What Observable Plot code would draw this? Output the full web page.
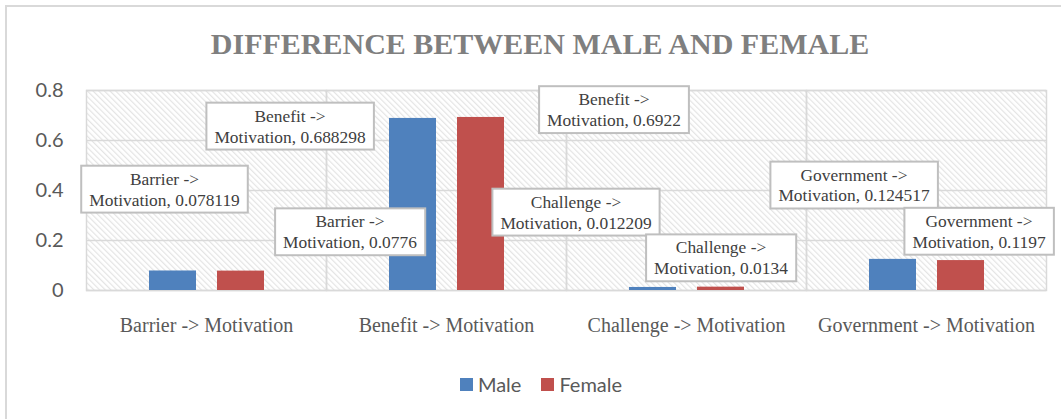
<!DOCTYPE html>
<html>
<head>
<meta charset="utf-8">
<script src="https://cdn.jsdelivr.net/npm/d3@7"></script>
<script src="https://cdn.jsdelivr.net/npm/@observablehq/plot@0.6"></script>
<style>
  html, body { margin: 0; padding: 0; background: #fff; }
  #wrap { position: relative; width: 1061px; height: 419px; overflow: hidden; background: #fff; }
  #border { position: absolute; left: 5px; top: 5px; width: 1200px; height: 600px; border: 2px solid #d9d9d9; box-sizing: border-box; }
  #title { position: absolute; left: 0; top: 28px; width: 1080px; height: 32px; line-height: 32px; text-align: center;
           font-family: "Liberation Serif", "Times New Roman", serif; font-weight: bold; font-size: 30px; color: #7f7f7f; white-space: nowrap; }
  #chart { position: absolute; left: 0; top: 62px; }
  #legend { position: absolute; left: 0; top: 372px; width: 1082px; height: 24px; display: flex; justify-content: center; align-items: center;
            font-family: Lato, "Open Sans", sans-serif; font-size: 20px; color: #595959; }
  .item { display: flex; align-items: center; margin: 0 10px; }
  .sw { width: 13px; height: 13px; margin-right: 5px; }
</style>
</head>
<body>
<div id="wrap">
  <div id="border"></div>
  <div id="title">DIFFERENCE BETWEEN MALE AND FEMALE</div>
  <div id="chart"></div>
  <div id="legend"></div>
</div>
<script>
// ---- data ----
const categories = ["Barrier -> Motivation", "Benefit -> Motivation", "Challenge -> Motivation", "Government -> Motivation"];
const series = ["Male", "Female"];
const maleValues = [0.078119, 0.688298, 0.012209, 0.124517];
const femaleValues = [0.0776, 0.6922, 0.0134, 0.1197];
const yTicks = [0, 0.2, 0.4, 0.6, 0.8];
const colors = ["#4f81bd", "#c0504d"];

// ---- layout of the (manually placed) data labels: offset of label centre from bar top ----
const labelOffsets = {
  Male:   [[-8.5, -82.5], [-123, 7], [-77, -76], [-39, -75]],
  Female: [[109, -40], [133, -8.5], [0, -30], [18, -30]]
};

const data = [];
series.forEach((s, si) => categories.forEach((c, ci) => {
  data.push({category: c, series: s, value: (si === 0 ? maleValues : femaleValues)[ci], ci});
}));

const labelText = d => d.category.replace(" -> Motivation", " ->\nMotivation") + ", " + String(d.value);

const labelMarks = data.map(d => {
  const [dx, dy] = labelOffsets[d.series][d.ci];
  return Plot.text([d], {
    fx: "category", x: "series", y: "value", text: labelText,
    dx, dy, textAnchor: "middle", lineAnchor: "middle", lineHeight: 1.2,
    fontFamily: "Liberation Serif, Times New Roman, serif", fontSize: 17.4, fill: "#404040"
  });
});

const chart = Plot.plot({
  width: 1061,
  height: 290,
  marginLeft: 85,
  marginRight: 15,
  marginTop: 28,
  marginBottom: 62,
  style: {background: "transparent", overflow: "visible", color: "#595959"},
  fx: {domain: categories, padding: 0, label: null},
  x: {domain: series, paddingInner: 0.309, paddingOuter: 0.919, axis: null},
  y: {domain: [0, 0.8], label: null},
  color: {domain: series, range: colors},
  marks: [
    Plot.frame({fill: "url(#hatch)", stroke: "none"}),
    Plot.gridY(yTicks, {stroke: "#d9d9d9", strokeOpacity: 1, strokeWidth: 1.5}),
    Plot.frame({stroke: "#d9d9d9", strokeWidth: 1.5}),
    Plot.axisY({ticks: yTicks, tickSize: 0, tickPadding: 23, tickFormat: d => String(+d.toFixed(1)),
                fontSize: 20, fontFamily: "Lato, Open Sans, sans-serif", fill: "#595959", label: null}),
    Plot.axisFx({anchor: "bottom", tickSize: 0, tickPadding: 27, fontSize: 20,
                 fontFamily: "Liberation Serif, Times New Roman, serif", fill: "#595959", label: null}),
    Plot.barY(data, {fx: "category", x: "series", y: "value", fill: "series"}),
    ...labelMarks
  ]
});

// hatch pattern for the plot area
const ns = "http://www.w3.org/2000/svg";
const defs = document.createElementNS(ns, "defs");
defs.innerHTML = '<pattern id="hatch" patternUnits="userSpaceOnUse" width="4" height="4" patternTransform="rotate(-45)">' +
  '<rect width="4" height="4" fill="#ffffff"/><rect width="1.2" height="4" fill="#e4e4e4"/></pattern>';
chart.insertBefore(defs, chart.firstChild);

document.getElementById("chart").append(chart);

// boxes behind data labels (the label texts are those containing "Motivation,")
chart.querySelectorAll("text").forEach(t => {
  if (!t.textContent.includes("Motivation,")) return;
  const b = t.getBBox();
  const padX = 8, padY = 3;
  const r = document.createElementNS(ns, "rect");
  r.setAttribute("x", b.x - padX);
  r.setAttribute("y", b.y - padY);
  r.setAttribute("width", b.width + 2 * padX);
  r.setAttribute("height", b.height + 2 * padY);
  r.setAttribute("fill", "#ffffff");
  r.setAttribute("stroke", "#bfbfbf");
  r.setAttribute("stroke-width", 2);
  const tr = t.getAttribute("transform");
  if (tr) r.setAttribute("transform", tr);
  t.parentNode.insertBefore(r, t);
});

// legend
const legend = document.getElementById("legend");
series.forEach((s, i) => {
  const it = document.createElement("div");
  it.className = "item";
  it.innerHTML = `<div class="sw" style="background:${colors[i]}"></div><span>${s}</span>`;
  legend.append(it);
});
</script>
</body>
</html>
